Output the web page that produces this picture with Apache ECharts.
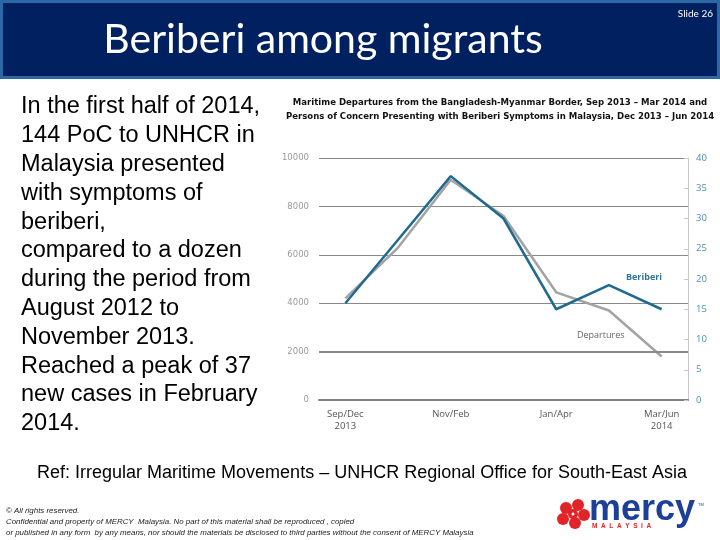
<!DOCTYPE html>
<html><head><meta charset="utf-8">
<script src="https://cdn.jsdelivr.net/npm/echarts@6/dist/echarts.min.js"></script>
<style>html,body{margin:0;padding:0;background:#fff;}#c{width:720px;height:540px;}</style>
</head><body><div id="c"></div>
<script>
const categories = ['Sep/Dec\n2013','Oct/Jan','Nov/Feb','Dec/Mar','Jan/Apr','Feb/May','Mar/Jun\n2014'];
const departures = [4200, 6300, 9100, 7600, 4450, 3700, 1800];
const beriberi = [16, 26.5, 37, 30, 15, 19, 15];
const leftTicks = [0, 2000, 4000, 6000, 8000, 10000];
const rightTicks = [0, 5, 10, 15, 20, 25, 30, 35, 40];
const bodyLines = ['In the first half of 2014,','144 PoC to UNHCR in','Malaysia presented','with symptoms of','beriberi,','compared to a dozen','during the period from','August 2012 to','November 2013.','Reached a peak of 37','new cases in February','2014.'];

const chart = echarts.init(document.getElementById('c'));
const graphics = [
  {type:'rect', shape:{x:1.5,y:1.5,width:717,height:76}, style:{fill:'#002060', stroke:'#2c68a6', lineWidth:3}, z:0},
  {type:'text', x:323, y:40, style:{text:'Beriberi among migrants', fill:'#fff', font:'41px Lato, "Open Sans", sans-serif', textAlign:'center', textVerticalAlign:'middle'}},
  {type:'text', x:713, y:14, style:{text:'Slide 26', fill:'#fff', font:'10px Lato, sans-serif', textAlign:'right', textVerticalAlign:'middle'}},
  {type:'text', x:362, y:473, style:{text:'Ref: Irregular Maritime Movements – UNHCR Regional Office for South-East Asia', fill:'#000', font:'18px "Liberation Sans", Arial, sans-serif', textAlign:'center', textVerticalAlign:'middle'}},
  {type:'text', left:6, top:505, style:{text:'© All rights reserved.\nConfidential and property of MERCY  Malaysia. No part of this material shall be reproduced , copied\nor published in any form  by any means, nor should the materials be disclosed to third parties without the consent of MERCY Malaysia', fill:'#222', font:'italic 7.9px "Liberation Sans", Arial, sans-serif', lineHeight:11}},
  {type:'text', x:500, y:110, style:{text:'Maritime Departures from the Bangladesh-Myanmar Border, Sep 2013 – Mar 2014 and\nPersons of Concern Presenting with Beriberi Symptoms in Malaysia, Dec 2013 – Jun 2014', fill:'#111', font:'bold 9.5px "Liberation Sans Narrow", "DejaVu Sans Condensed", sans-serif', textAlign:'center', textVerticalAlign:'middle', lineHeight:14}},
  {type:'text', x:626, y:277, style:{text:'Beriberi', fill:'#2f7597', font:'bold 9px "Open Sans", sans-serif', textVerticalAlign:'middle'}},
  {type:'text', x:577, y:335, style:{text:'Departures', fill:'#666', font:'9px "Open Sans", sans-serif', textVerticalAlign:'middle'}},
  {type:'text', x:589, y:510, style:{text:'mercy', fill:'#1d3f97', font:'bold 36px "Liberation Sans", Arial, sans-serif', textVerticalAlign:'middle'}},
  {type:'text', x:592, y:526, style:{text:'M  A  L  A  Y  S  I  A', fill:'#e02428', font:'bold 6.5px "Liberation Sans", Arial, sans-serif', textVerticalAlign:'middle'}},
  {type:'text', x:698, y:503, style:{text:'TM', fill:'#1d3f97', font:'4px sans-serif'}},
  {type:'circle', shape:{cx:566,cy:508,r:6}, style:{fill:'#e02428'}},
  {type:'circle', shape:{cx:578,cy:505,r:6}, style:{fill:'#e02428'}},
  {type:'circle', shape:{cx:584,cy:515,r:6}, style:{fill:'#e02428'}},
  {type:'circle', shape:{cx:575,cy:523,r:6}, style:{fill:'#e02428'}},
  {type:'circle', shape:{cx:563,cy:519,r:6}, style:{fill:'#e02428'}},
  {type:'circle', shape:{cx:573,cy:514,r:5}, style:{fill:'#e02428'}},
  {type:'circle', shape:{cx:573,cy:514,r:1.5}, style:{fill:'#fff'}}
];
bodyLines.forEach((t,i)=>{
  graphics.push({type:'text', x:21, y:107 + i*28.8, style:{text:t, fill:'#000', font:'23.5px "Liberation Sans", Arial, sans-serif', textVerticalAlign:'middle'}});
});

chart.setOption({
  animation:false,
  backgroundColor:'#fff',
  graphic: graphics,
  grid:{left:319, right:32, top:158, bottom:140},
  xAxis:{type:'category', data:categories, boundaryGap:true,
    axisLine:{lineStyle:{color:'#808080', width:2}},
    axisTick:{show:false},
    axisLabel:{interval:1, color:'#555', fontSize:9.5, fontFamily:'"Open Sans", sans-serif', margin:8, lineHeight:12}},
  yAxis:[
    {type:'value', min:0, max:10000, interval:2000,
      axisLine:{show:false}, axisTick:{show:false},
      axisLabel:{color:'#9a9a9a', fontSize:8.5, fontFamily:'"DejaVu Sans", sans-serif', margin:10, formatter:v=>String(v)},
      splitLine:{lineStyle:{color:'#8a8a8a', width:1}}},
    {type:'value', min:0, max:40, interval:5, position:'right',
      axisLine:{show:true, lineStyle:{color:'#c8c8c8', width:1}},
      axisTick:{show:true, inside:true, length:4, lineStyle:{color:'#c8c8c8'}},
      axisLabel:{color:'#4f8fb3', fontSize:9.5, fontFamily:'"Open Sans", sans-serif', margin:8},
      splitLine:{show:false}}
  ],
  series:[
    {name:'Departures', type:'line', yAxisIndex:0, data:departures, symbol:'none',
      lineStyle:{color:'#a3a3a3', width:2.5}, z:2,
      markLine:{silent:true, symbol:'none', label:{show:false}, data:[{yAxis:2000}], lineStyle:{color:'#8a8a8a', width:2, type:'solid'}}},
    {name:'Beriberi', type:'line', yAxisIndex:1, data:beriberi, symbol:'none',
      lineStyle:{color:'#206a90', width:2.5}, z:3}
  ]
});
</script></body></html>
